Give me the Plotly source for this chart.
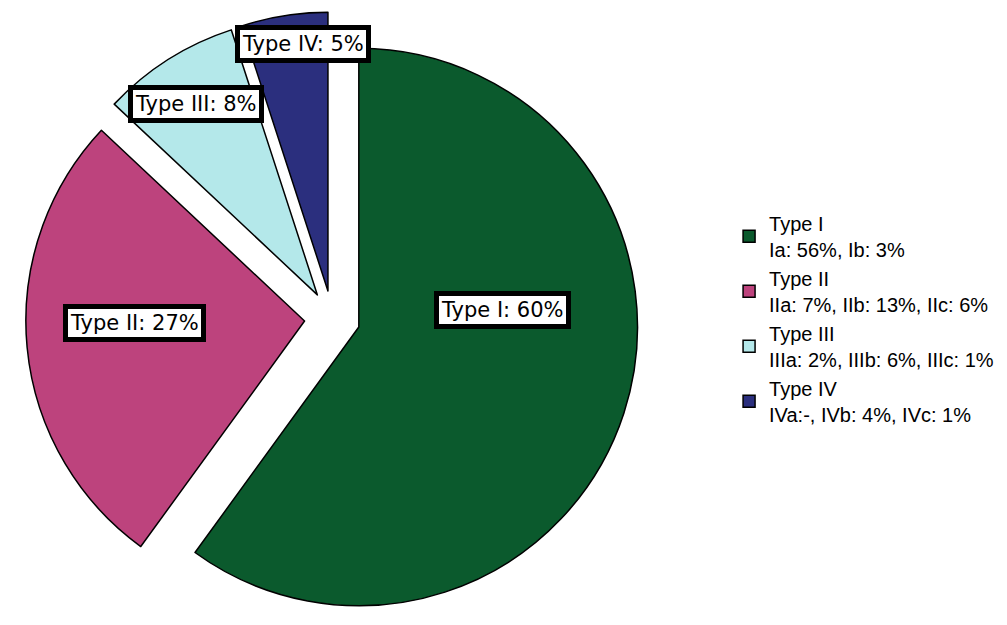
import math
import plotly.graph_objects as go

# ---- data ----
categories = ["Type I", "Type II", "Type III", "Type IV"]
percents = [60, 27, 8, 5]
subtypes = [
    "Ia: 56%, Ib: 3%",
    "IIa: 7%, IIb: 13%, IIc: 6%",
    "IIIa: 2%, IIIb: 6%, IIIc: 1%",
    "IVa:-, IVb: 4%, IVc: 1%",
]

# ---- style ----
colors = ["#0b5a2d", "#bd437d", "#b4e8ea", "#2b2f7e"]
W, H = 1007, 625
dom_x = [0.0, 0.66]
dom_y = [0.0, 0.981]
pull = 0.1
label_radius = [0.61, 0.71, 0.91, 0.99]      # fraction of radius
label_angle_shift = [-21, 4, 0, 3]           # degrees from slice middle

legend_labels = [f"{c}<br>{s}" for c, s in zip(categories, subtypes)]

fig = go.Figure(
    go.Pie(
        labels=legend_labels,
        values=percents,
        sort=False,
        direction="clockwise",
        rotation=0,
        pull=[pull] * len(percents),
        textinfo="none",
        hoverinfo="label+percent",
        marker=dict(colors=colors, line=dict(color="#000000", width=1.5)),
        domain=dict(x=dom_x, y=dom_y),
    )
)

# pie geometry (same rule plotly uses) to place the boxed labels
box_w = W * (dom_x[1] - dom_x[0])
box_h = H * (dom_y[1] - dom_y[0])
r = min(box_w, box_h) / (2 + 2 * pull)
cx = W * (dom_x[0] + dom_x[1]) / 2
cy = H * (2 - dom_y[0] - dom_y[1]) / 2

total = sum(percents)
start = 0.0
annotations = []
for i, (cat, v) in enumerate(zip(categories, percents)):
    span = 360.0 * v / total
    mid = start + span / 2 + label_angle_shift[i]
    start += span
    a = math.radians(mid)
    px = cx + label_radius[i] * r * math.sin(a)
    py = cy - label_radius[i] * r * math.cos(a)
    annotations.append(
        dict(
            x=px / W,
            y=1 - py / H,
            xref="paper",
            yref="paper",
            text=f"{cat}: {round(100 * v / total)}%",
            showarrow=False,
            font=dict(family="DejaVu Sans", size=21, color="#000000"),
            bgcolor="#ffffff",
            bordercolor="#000000",
            borderwidth=5,
            borderpad=2,
            xanchor="center",
            yanchor="middle",
        )
    )

fig.update_layout(
    width=W,
    height=H,
    margin=dict(l=0, r=0, t=0, b=0),
    paper_bgcolor="#ffffff",
    plot_bgcolor="#ffffff",
    annotations=annotations,
    showlegend=True,
    legend=dict(
        x=0.724,
        xanchor="left",
        y=0.49,
        yanchor="middle",
        font=dict(family="Liberation Sans, Arial, sans-serif", size=20, color="#000000"),
        traceorder="normal",
        bgcolor="rgba(0,0,0,0)",
        itemwidth=30,
    ),
)

fig.write_html("out.html")
